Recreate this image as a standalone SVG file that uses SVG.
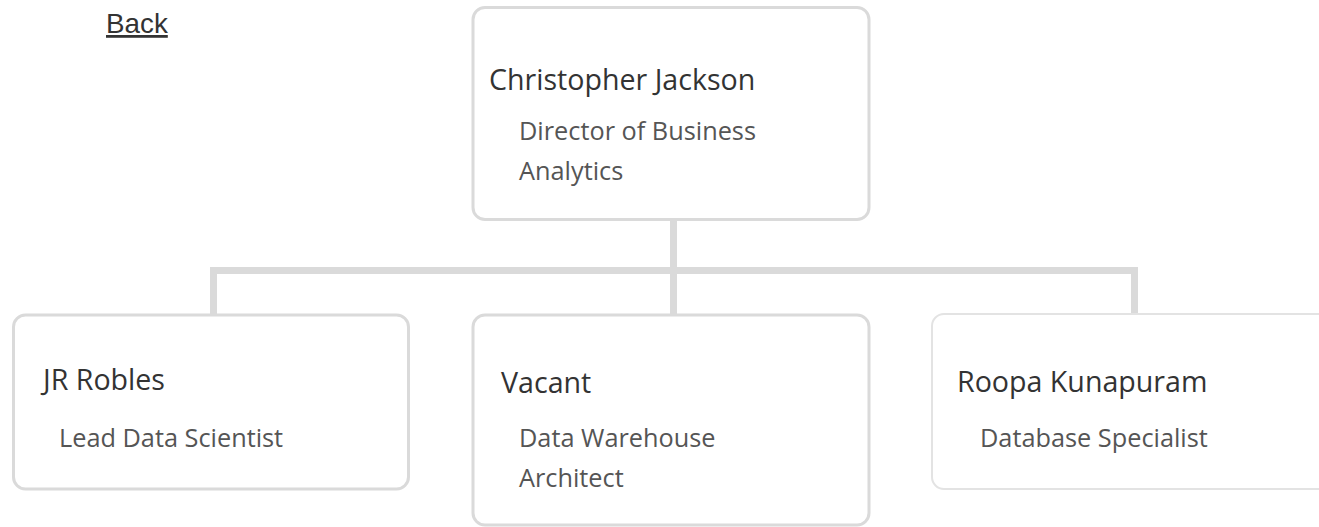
<svg xmlns="http://www.w3.org/2000/svg" width="1319" height="527" viewBox="0 0 1319 527">
  <style>
    .box { fill: #ffffff; stroke: #dadada; stroke-width: 3; }
    .box-light { fill: #ffffff; stroke: #e3e3e3; stroke-width: 2; }
    .name { font-family: "Open Sans", "Noto Sans", sans-serif; font-size: 28.6px; fill: #333333; }
    .title { font-family: "Open Sans", "Noto Sans", sans-serif; font-size: 25.3px; fill: #555555; }
    .link { font-family: "Liberation Sans", Arial, sans-serif; font-size: 27.8px; fill: #333333; text-decoration: underline; }
    .conn { stroke: #dadada; stroke-width: 7; fill: none; }
  </style>
  <rect x="0" y="0" width="1319" height="527" fill="#ffffff"/>
  <text class="link" x="106" y="33">Back</text>

  <g id="connectors">
    <line class="conn" x1="673.5" y1="220" x2="673.5" y2="271"/>
    <line class="conn" x1="210" y1="270.5" x2="1138" y2="270.5"/>
    <line class="conn" x1="213.5" y1="267" x2="213.5" y2="318"/>
    <line class="conn" x1="673.5" y1="270" x2="673.5" y2="318"/>
    <line class="conn" x1="1134.5" y1="267" x2="1134.5" y2="318"/>
  </g>

  <g id="node-christopher">
    <rect class="box" x="473" y="7.5" width="396" height="212" rx="12"/>
    <text class="name" x="489" y="90">Christopher Jackson</text>
    <text class="title" x="519" y="140">Director of Business</text>
    <text class="title" x="519" y="180">Analytics</text>
  </g>

  <g id="node-jr">
    <rect class="box" x="13.5" y="315" width="395" height="174" rx="12"/>
    <text class="name" x="43" y="390">JR Robles</text>
    <text class="title" x="59" y="447">Lead Data Scientist</text>
  </g>

  <g id="node-vacant">
    <rect class="box" x="473" y="315" width="396" height="210" rx="12"/>
    <text class="name" x="501" y="393">Vacant</text>
    <text class="title" x="519" y="447">Data Warehouse</text>
    <text class="title" x="519" y="487">Architect</text>
  </g>

  <g id="node-roopa">
    <rect class="box-light" x="932" y="314" width="420" height="175" rx="12"/>
    <text class="name" x="957" y="392">Roopa Kunapuram</text>
    <text class="title" x="980" y="447">Database Specialist</text>
  </g>
</svg>
